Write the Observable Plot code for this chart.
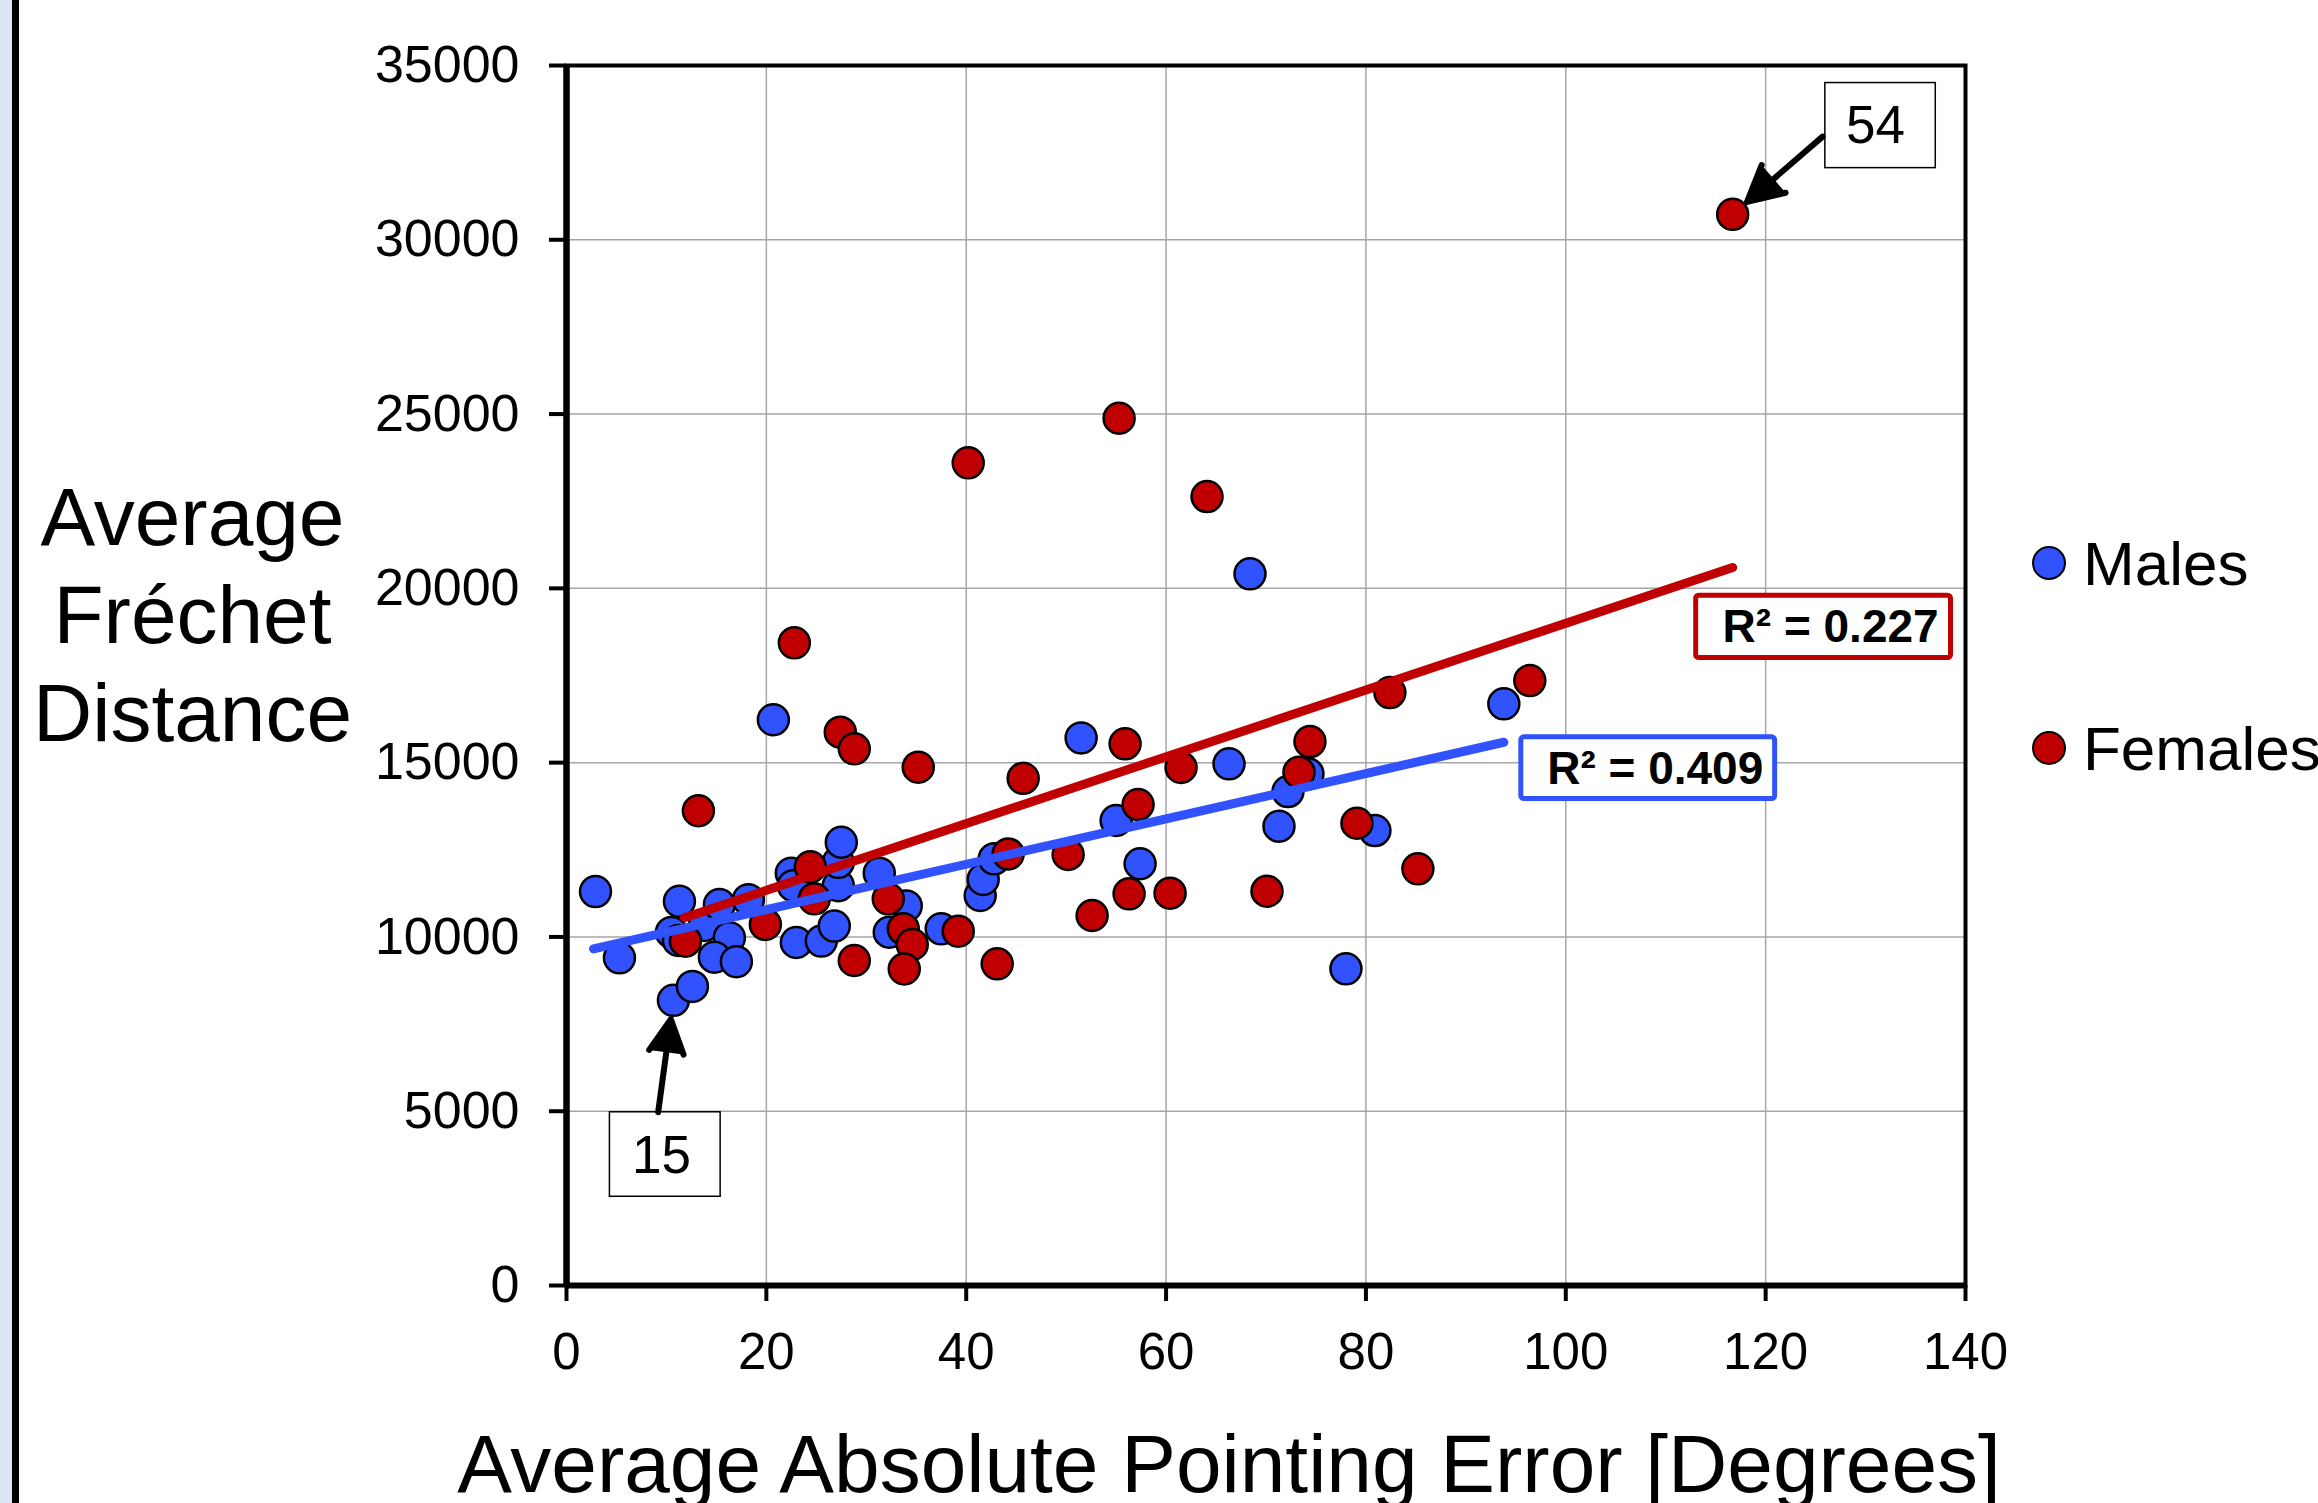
<!DOCTYPE html>
<html>
<head>
<meta charset="utf-8">
<script src="https://cdn.jsdelivr.net/npm/d3@7"></script>
<script src="https://cdn.jsdelivr.net/npm/@observablehq/plot@0.6"></script>
<style>
  html, body { margin: 0; padding: 0; background: #ffffff; }
  #wrap { position: relative; width: 2318px; height: 1503px; overflow: hidden; background: #ffffff; font-family: "Liberation Sans", Arial, sans-serif; }
  #stripA { position: absolute; left: 0; top: 0; width: 11.5px; height: 1503px; background: #dbe5f4; }
  #stripB { position: absolute; left: 11.5px; top: 0; width: 7.5px; height: 1503px; background: #000; }
  .lg-dot { position: absolute; width: 30px; height: 30px; border: 2.5px solid #000; border-radius: 50%; }
  .lg-txt { position: absolute; font-size: 62px; line-height: 62px; color: #000; white-space: nowrap; }
  #chart { position: absolute; left: 0; top: 0; }
</style>
</head>
<body>
<div id="wrap">
  <div id="chart"></div>
  <div id="stripA"></div>
  <div id="stripB"></div>
  <div id="legend"></div>
</div>
<script>
// ---------- data ----------
const maleX = [2.9, 5.3, 10.5, 11.2, 11.3, 10.7, 12.6, 13.8, 15.3, 16.3, 14.8, 17.0, 18.2, 20.7, 22.5, 22.7, 23.0, 25.5, 26.8, 27.2, 27.2, 27.5, 31.3, 32.3, 34.0, 37.5, 41.4, 41.7, 42.8, 51.5, 55.0, 57.4, 66.3, 68.4, 71.3, 72.2, 74.2, 78.0, 80.9, 93.8];
const maleY = [11300, 9400, 10130, 9900, 11020, 8180, 8580, 10330, 10930, 9980, 9420, 9290, 11070, 16230, 11830, 11470, 9840, 9880, 10310, 11470, 12140, 12717, 11830, 10135, 10890, 10232, 11188, 11650, 12240, 15710, 13340, 12100, 14966, 20416, 13176, 14171, 14679, 9085, 13052, 16686];

const femaleX = [11.9, 13.2, 19.9, 22.8, 24.4, 24.8, 27.4, 28.8, 28.8, 32.2, 33.7, 34.6, 33.8, 35.2, 39.2, 40.2, 43.1, 44.2, 45.7, 50.2, 52.6, 55.3, 55.9, 56.3, 57.2, 60.4, 61.5, 64.1, 70.1, 73.3, 74.4, 79.1, 82.4, 85.2, 96.4, 116.7];
const femaleY = [9877, 13620, 10360, 18436, 12010, 11093, 15873, 15396, 9323, 11093, 10232, 9782, 9080, 14870, 10164, 23600, 9228, 12380, 14550, 12364, 10614, 24880, 15539, 11236, 13798, 11254, 14860, 22634, 11311, 14725, 15605, 13262, 17010, 11954, 17355, 30730];

// trend line end points (as drawn)
const maleTrendX = [2.7, 93.8];
const maleTrendY = [9658, 15585];
const femaleTrendX = [11.8, 116.7];
const femaleTrendY = [10550, 20600];

// R² labels
const r2Text = ["R\u00B2 = 0.409", "R\u00B2 = 0.227"];
const r2X = [108.95, 126.5];
const r2Y = [14822, 18876];
const r2BoxX1 = [95.3, 112.8];
const r2BoxX2 = [121.2, 138.8];
const r2BoxY1 = [13884, 17929];
const r2BoxY2 = [15797, 19860];

// callouts (participant ids)
const calloutText = ["15", "54"];
const calloutPointX = [10.7, 116.7];
const calloutPointY = [8180, 30730];
const calloutTailX = [9.17, 125.7];
const calloutTailY = [4971, 32960];
const calloutTextX = [9.5, 131.0];
const calloutTextY = [3706, 33253];
const calloutBoxX1 = [4.27, 125.9];
const calloutBoxX2 = [15.5, 137.1];
const calloutBoxY1 = [2524, 32034];
const calloutBoxY2 = [4991, 34518];

// axes
const xTicks = [0, 20, 40, 60, 80, 100, 120, 140];
const xTickLabels = ["0", "20", "40", "60", "80", "100", "120", "140"];
const yTicks = [0, 5000, 10000, 15000, 20000, 25000, 30000, 35000];
const yTickLabels = ["0", "5000", "10000", "15000", "20000", "25000", "30000", "35000"];
const xTitle = "Average Absolute Pointing Error [Degrees]";
const yTitle = "Average\nFréchet\nDistance";
const seriesNames = ["Males", "Females"];
const seriesColors = ["#3152ff", "#c00000"];

// ---------- build tables ----------
const males = maleX.map((x, i) => ({x, y: maleY[i]}));
const females = femaleX.map((x, i) => ({x, y: femaleY[i]}));
const maleTrend = maleTrendX.map((x, i) => ({x, y: maleTrendY[i]}));
const femaleTrend = femaleTrendX.map((x, i) => ({x, y: femaleTrendY[i]}));
const r2 = r2Text.map((t, i) => ({t, x: r2X[i], y: r2Y[i], x1: r2BoxX1[i], x2: r2BoxX2[i], y1: r2BoxY1[i], y2: r2BoxY2[i], c: seriesColors[i]}));
const callouts = calloutText.map((t, i) => ({
  t, px: calloutPointX[i], py: calloutPointY[i], tx: calloutTailX[i], ty: calloutTailY[i],
  lx: calloutTextX[i], ly: calloutTextY[i],
  x1: calloutBoxX1[i], x2: calloutBoxX2[i], y1: calloutBoxY1[i], y2: calloutBoxY2[i]
}));

const plot = Plot.plot({
  width: 2318,
  height: 1503,
  marginLeft: 566,
  marginRight: 353,
  marginTop: 65,
  marginBottom: 218,
  x: {domain: [0, 140]},
  y: {domain: [0, 35000]},
  style: {fontFamily: "'Liberation Sans', Arial, sans-serif", background: "transparent", color: "black", overflow: "visible"},
  marks: [
    Plot.gridX({ticks: xTicks, stroke: "#a6a6a6", strokeOpacity: 1, strokeWidth: 1.5}),
    Plot.gridY({ticks: yTicks, stroke: "#a6a6a6", strokeOpacity: 1, strokeWidth: 1.5}),
    Plot.dot(males, {x: "x", y: "y", r: 15.5, fill: seriesColors[0], stroke: "black", strokeWidth: 2.5}),
    Plot.dot(females, {x: "x", y: "y", r: 15.5, fill: seriesColors[1], stroke: "black", strokeWidth: 2.5}),
    Plot.line(maleTrend, {x: "x", y: "y", stroke: seriesColors[0], strokeWidth: 9, strokeLinecap: "round"}),
    Plot.line(femaleTrend, {x: "x", y: "y", stroke: seriesColors[1], strokeWidth: 9, strokeLinecap: "round"}),
    Plot.rect(r2, {x1: "x1", x2: "x2", y1: "y1", y2: "y2", fill: "white", stroke: "c", strokeWidth: 5, inset: 2.5, rx: 3}),
    Plot.text(r2, {x: "x", y: "y", text: "t", fontSize: 46, fontWeight: "bold", fill: "black"}),
    Plot.rect(callouts, {x1: "x1", x2: "x2", y1: "y1", y2: "y2", fill: "white", stroke: "black", strokeWidth: 1.5, inset: 0.75}),
    Plot.text(callouts, {x: "lx", y: "ly", text: "t", fontSize: 53, fill: "black"}),
    Plot.arrow(callouts, {x1: "tx", y1: "ty", x2: "px", y2: "py", stroke: "black", fill: "black", strokeWidth: 6, headLength: 22, headAngle: 55, insetEnd: 19}),
    Plot.frame({stroke: "black", strokeWidth: 4}),
    Plot.ruleX([0], {stroke: "black", strokeWidth: 6.5}),
    Plot.ruleY([0], {stroke: "black", strokeWidth: 6}),
    Plot.axisX({ticks: xTicks, tickFormat: (d, i) => xTickLabels[i], tickSize: 16, tickPadding: 31, fontSize: 51, strokeWidth: 4, label: null}),
    Plot.axisY({ticks: yTicks, tickFormat: (d, i) => yTickLabels[i], tickSize: 17, tickPadding: 30, fontSize: 52, strokeWidth: 4, label: null}),
    Plot.text([yTitle], {frameAnchor: "left", dx: -374, dy: -64, textAnchor: "middle", fontSize: 82, lineHeight: 1.198, fill: "black"}),
    Plot.text([xTitle], {frameAnchor: "bottom", dx: -37, dy: 206, textAnchor: "middle", fontSize: 82, fill: "black"})
  ]
});
document.getElementById("chart").appendChild(plot);

// legend (to the right of the plot, as in the reference)
const legend = document.getElementById("legend");
const legendTops = [545.5, 731];
const legendTextTops = [532.5, 718];
seriesNames.forEach((name, i) => {
  const d = document.createElement("div");
  d.className = "lg-dot";
  d.style.left = "2031.5px";
  d.style.top = legendTops[i] + "px";
  d.style.background = seriesColors[i];
  legend.appendChild(d);
  const t = document.createElement("div");
  t.className = "lg-txt";
  t.style.left = "2083px";
  t.style.top = legendTextTops[i] + "px";
  t.textContent = name;
  legend.appendChild(t);
});
</script>
</body>
</html>
